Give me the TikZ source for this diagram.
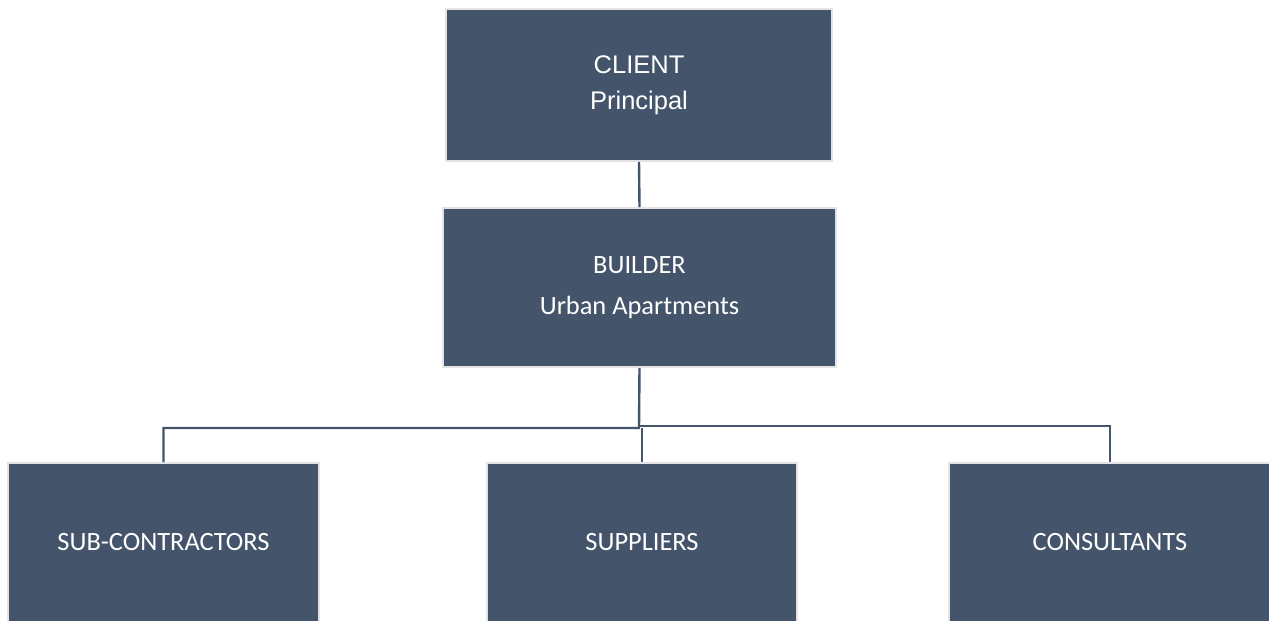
\documentclass[tikz,border=0pt]{standalone}
\usepackage{fontspec}
\setmainfont{Carlito}
\newfontfamily\arialfont{Liberation Sans}
\definecolor{boxfill}{HTML}{44546A}
\definecolor{boxedge}{HTML}{E3E3E3}
\begin{document}
\begin{tikzpicture}[x=1pt,y=-1pt,
  orgbox/.style={rectangle, fill=boxfill, draw=boxedge, line width=2pt,
    inner sep=0pt, text=white, align=center,
    font=\fontsize{26.4}{41}\selectfont},
  link/.style={draw=boxfill, line width=2.4pt}]
\useasboundingbox (0,0) rectangle (1269,621);
\clip (0,0) rectangle (1269,621);

% top two levels
\node[orgbox, minimum width=386pt, minimum height=152pt,
      font=\arialfont\fontsize{25.5}{36}\selectfont]
  (client) at (639,85) {CLIENT\\Principal};
\node[orgbox, minimum width=393pt, minimum height=159pt]
  (builder) at (639.5,287.5) {BUILDER\\Urban Apartments};

% bottom row (boxes run past the lower edge)
\node[orgbox, minimum width=311pt, minimum height=159pt]
  (sub) at (163.5,542.5) {SUB-CONTRACTORS};
\node[orgbox, minimum width=310pt, minimum height=159pt]
  (supp) at (642,542.5) {SUPPLIERS};
\node[orgbox, minimum width=322pt, minimum height=159pt]
  (cons) at (1110,542.5) {CONSULTANTS};

% junction points of the tree
\coordinate (jl) at (639,428);
\coordinate (jr) at (639,426);
\coordinate (js) at (642,428);

\draw[link] (client.south) -- (builder.north);
\draw[link] (builder.south) -- (jl) -| (sub.north);
\draw[link] (jr) -| (cons.north);
\draw[link] (js) -- (supp.north);
\end{tikzpicture}
\end{document}
